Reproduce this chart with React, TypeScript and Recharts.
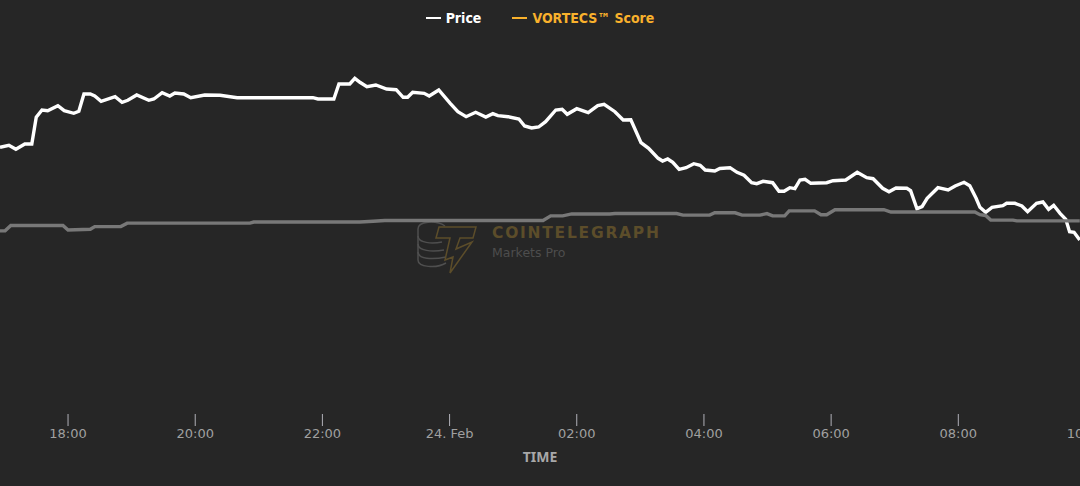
import { Legend, Line, LineChart, XAxis, YAxis } from "recharts";

// hours counted from 00:00 on 23 Feb
const priceHours = [
  16.93, 17.07, 17.18, 17.32, 17.43, 17.5, 17.59, 17.68, 17.84, 17.94,
  18.09, 18.17, 18.25, 18.35, 18.42, 18.52, 18.74, 18.85, 18.94, 19.08,
  19.27, 19.35, 19.48, 19.6, 19.68, 19.82, 19.93, 20.15, 20.39, 20.66,
  21.85, 21.93, 22.18, 22.26, 22.43, 22.51, 22.59, 22.7, 22.84, 23.01,
  23.16, 23.27, 23.34, 23.42, 23.6, 23.68, 23.83, 24.01, 24.13, 24.26,
  24.41, 24.57, 24.68, 24.76, 24.92, 25.09, 25.18, 25.29, 25.4, 25.51,
  25.67, 25.77, 25.85, 26.0, 26.18, 26.33, 26.43, 26.6, 26.73, 26.85,
  27.01, 27.13, 27.28, 27.35, 27.43, 27.51, 27.61, 27.72, 27.84, 27.94,
  28.02, 28.17, 28.25, 28.41, 28.52, 28.63, 28.75, 28.83, 28.93, 29.08,
  29.18, 29.26, 29.35, 29.43, 29.51, 29.59, 29.68, 29.93, 30.03, 30.23,
  30.41, 30.56, 30.66, 30.81, 30.91, 31.02, 31.19, 31.25, 31.35, 31.43,
  31.51, 31.68, 31.84, 31.95, 32.09, 32.18, 32.28, 32.34, 32.43, 32.53,
  32.7, 32.76, 32.89, 33.0, 33.09, 33.23, 33.33, 33.42, 33.5, 33.6,
  33.69, 33.75, 33.82, 33.91,
];
const priceValues = [
  266.7, 268.7, 264.7, 270, 270, 296.7, 304, 303.3, 308.3, 303.3,
  300.7, 302.7, 320, 320, 318, 312.7, 317.3, 311.7, 313.7, 319,
  313.7, 315, 321.3, 318, 321, 320, 316.3, 319, 318.7, 316.3,
  316.3, 315, 315, 330, 330, 335.7, 331.7, 327.3, 329, 325,
  324.3, 316.7, 316.7, 321.7, 320.7, 318, 324, 310.7, 302.3, 297.3,
  301.7, 297, 300.3, 298.3, 297.3, 295, 288, 286, 287, 292.3,
  304, 304.7, 299.7, 305.3, 301.3, 308.3, 309.7, 302.3, 294, 294.3,
  271.3, 265.7, 255.7, 253, 255, 251.7, 244.7, 246.3, 250.3, 248.7,
  244, 243, 245.5, 246.3, 241.7, 238.7, 231.3, 230.3, 232.7, 231.3,
  222.7, 222.7, 226.3, 225.3, 234, 234.7, 230.7, 231.3, 233.3, 234,
  241.7, 236.3, 235.3, 225.7, 222.3, 226, 225.7, 223.3, 205.3, 207.3,
  215.7, 226.3, 224, 228, 231.7, 228.3, 215.7, 206.7, 201.7, 206.7,
  208.3, 210.7, 210.7, 208, 202.3, 210.7, 212, 204.7, 208.7, 200.7,
  194.7, 182.3, 181.7, 174,
];

const scoreHours = [
  16.93, 17.01, 17.1, 17.92, 18.0, 18.35, 18.42, 18.83, 18.93, 20.86,
  20.92, 22.59, 22.8, 22.98, 25.47, 25.59, 25.78, 25.92, 26.52, 26.6,
  27.57, 27.67, 28.09, 28.17, 28.49, 28.6, 28.88, 28.99, 29.08, 29.27,
  29.34, 29.74, 29.84, 29.93, 30.06, 30.83, 30.94, 32.26, 32.34, 32.43,
  32.51, 32.86, 32.92, 33.91,
];
const scoreValues = [
  47.7, 47.7, 49.1, 49.1, 47.9, 48.1, 48.8, 48.8, 49.7, 49.7,
  50.0, 50.0, 50.2, 50.4, 50.4, 51.6, 51.6, 52.1, 52.1, 52.2,
  52.2, 51.8, 51.8, 52.4, 52.4, 51.8, 51.8, 52.2, 51.6, 51.6,
  52.9, 52.9, 51.9, 51.9, 53.2, 53.2, 52.6, 52.6, 51.9, 51.7,
  50.5, 50.5, 50.3, 50.3,
];

const tickHours = [18, 20, 22, 24, 26, 28, 30, 32, 34];
const tickLabels = ["18:00", "20:00", "22:00", "24. Feb", "02:00", "04:00", "06:00", "08:00", "10:00"];

const seriesNames = ["Price", "VORTECS™ Score"];
const legendColors = ["#ffffff", "#f9b12c"];

const priceData = priceHours.map((hour, i) => ({ hour, price: priceValues[i] }));
const scoreData = scoreHours.map((hour, i) => ({ hour, score: scoreValues[i] }));

const FONT = "'DejaVu Sans', sans-serif";

const ChartLegend = () => (
  <div style={{ display: "flex", justifyContent: "center", gap: 31, fontFamily: "'DejaVu Sans Condensed', 'DejaVu Sans', sans-serif", fontWeight: 700, fontSize: 14 }}>
    {seriesNames.map((name, i) => (
      <span key={name} style={{ display: "flex", alignItems: "center", color: legendColors[i] }}>
        <span style={{ width: 15, height: 2, background: legendColors[i], marginRight: 5 }} />
        {name}
      </span>
    ))}
  </div>
);

const Watermark = () => (
  <svg width={300} height={80} style={{ position: "absolute", left: 400, top: 205 }}>
    <g fill="none" stroke="#4f4f4f" strokeWidth={1.5}>
      <path d="M45 21 C36 15 18 16 18 24 L18 55 C18 62 36 64 46 58" />
      <path d="M18 31 C18 38 32 39 42 37" />
      <path d="M18 39 C18 46 32 47 44 45" />
      <path d="M18 47 C18 54 32 55 46 52" />
    </g>
    <path
      d="M39 22 L76 22 L73 33 L60 33 L56 44 L72 37 L50 68 L53 52 L45 55 L50 33 L36 33 Z"
      fill="none"
      stroke="#5c4d2a"
      strokeWidth={1.5}
    />
    <text x={92} y={33} fontFamily={FONT} fontWeight={700} fontSize={15.5} letterSpacing={1.75} fill="#5c4d2a">
      COINTELEGRAPH
    </text>
    <text x={92} y={52} fontFamily={FONT} fontSize={12.5} fill="#4d4d4d">
      Markets Pro
    </text>
  </svg>
);

export default function App() {
  return (
    <div style={{ position: "fixed", left: 0, top: 0, width: 1080, height: 486, overflow: "hidden", background: "#262626" }}>
      <Watermark />
      <div style={{ position: "absolute", left: 0, top: 0 }}>
        <LineChart width={1130} height={486} margin={{ top: 14, right: 0, bottom: 0, left: 0 }}>
          <XAxis
            dataKey="hour"
            type="number"
            domain={[16.93, 34.7]}
            ticks={tickHours}
            interval={0}
            tickFormatter={(_v: number, i: number) => tickLabels[i]}
            height={72}
            axisLine={false}
            tickSize={12}
            tickMargin={3}
            tickLine={{ stroke: "#b0b0b8" }}
            tick={{ fill: "#a0a0a0", fontSize: 13, fontFamily: FONT }}
            label={{
              value: "TIME",
              position: "insideBottom",
              offset: 24,
              dx: -25,
              fill: "#a8a8a8",
              fontSize: 14,
              fontWeight: 700,
              fontFamily: "'Noto Sans', sans-serif",
            }}
          />
          <YAxis yAxisId="price" hide domain={[0, 384]} />
          <YAxis yAxisId="score" hide domain={[0, 100]} />
          <Legend
            content={<ChartLegend />}
            verticalAlign="top"
            wrapperStyle={{ left: 0, top: 10, width: 1080 }}
          />
          <Line
            yAxisId="price"
            data={priceData}
            dataKey="price"
            type="linear"
            stroke="#ffffff"
            strokeWidth={3.4}
            dot={false}
            isAnimationActive={false}
          />
          <Line
            yAxisId="score"
            data={scoreData}
            dataKey="score"
            type="linear"
            stroke="#787878"
            strokeWidth={3.4}
            dot={false}
            isAnimationActive={false}
          />
        </LineChart>
      </div>
    </div>
  );
}
